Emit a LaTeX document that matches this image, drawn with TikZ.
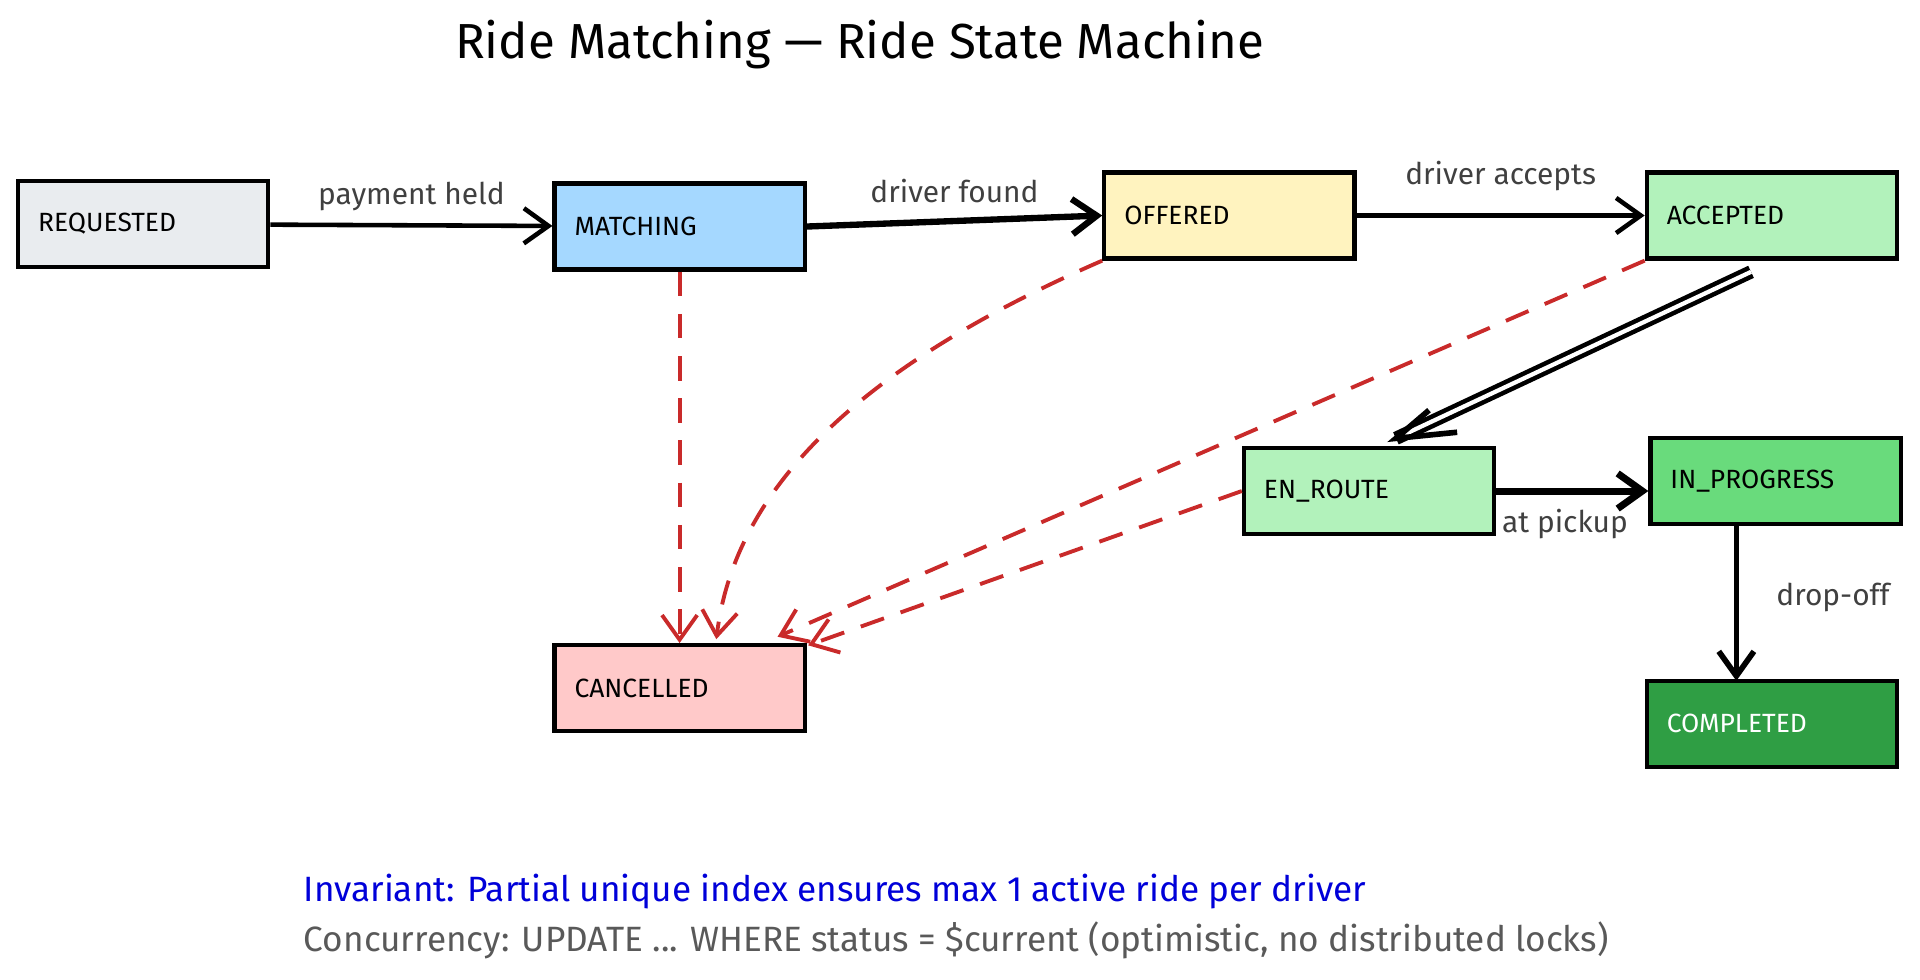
\documentclass[tikz,border=0pt]{standalone}
\usepackage{fontspec}
\setmainfont{Fira Sans}
\usetikzlibrary{arrows.meta}
\definecolor{GrayFill}{HTML}{E9ECEF}
\definecolor{BlueFill}{HTML}{A5D8FF}
\definecolor{YellowFill}{HTML}{FFF3BF}
\definecolor{LightGreen}{HTML}{B2F2BB}
\definecolor{MidGreen}{HTML}{69DB7C}
\definecolor{DarkGreen}{HTML}{2F9E44}
\definecolor{PinkFill}{HTML}{FFC9C9}
\definecolor{CancelRed}{HTML}{C92A2A}
\tikzset{
  state/.style={draw=black, line width=1.2pt, text width=2.1cm, align=left, inner xsep=0.2cm,
    minimum height=0.86cm, font=\fontsize{7.5}{9}\selectfont, text=black},
  trans/.style={line width=1.3pt, -{Straight Barb[length=7pt,width=10pt]}},
  cancel/.style={CancelRed, line width=1.1pt, dash pattern=on 7pt off 5pt, -{Straight Barb[length=7pt,width=10pt]}},
  lbl/.style={font=\fontsize{8.5}{10}\selectfont, text=black!75}
}
\begin{document}
\begin{tikzpicture}[x=0.012245cm, y=-0.012245cm]
\useasboundingbox (0,0) rectangle (1568,800);
% title
\node[font=\fontsize{14}{16}\selectfont] (title) at (702,36) {Ride Matching — Ride State Machine};

% states
\node[state, fill=GrayFill] (req) at (117,183) {REQUESTED};
\node[state, fill=BlueFill] (match) at (555,185) {MATCHING};
\node[state, fill=YellowFill] (off) at (1004,176) {OFFERED};
\node[state, fill=LightGreen] (acc) at (1447,176) {ACCEPTED};
\node[state, fill=LightGreen] (route) at (1118,401) {EN\_ROUTE};
\node[state, fill=MidGreen] (prog) at (1450,393) {IN\_PROGRESS};
\node[state, fill=DarkGreen, text=white] (done) at (1447,591) {COMPLETED};
\node[state, fill=PinkFill] (canc) at (555,562) {CANCELLED};

% happy path
\draw[trans] (req) -- node[lbl, above=0pt] {payment held} (match);
\draw[trans, line width=1.8pt] (match.east) -- node[lbl, above=1pt] {driver found} (off.west);
\draw[trans] (off) -- node[lbl, above=3pt] {driver accepts} (acc);
\coordinate (accout) at (1430,222);
\coordinate (routein) at (1140,358);
\draw[line width=1.3pt, double, double distance=1.2pt] (accout) -- (routein);
\draw[line width=1.6pt] (1167,335) -- (routein) -- (1190,353);
\draw[trans, line width=2pt] (route.east) -- (prog.west |- route.east);
\node[lbl] (pick) at (1278,428) {at pickup};
\coordinate (progout) at (1418,429);
\coordinate (donein) at (1418,556);
\draw[trans, line width=1.6pt] (progout) -- (donein);
\node[lbl] (drop) at (1497,488) {drop-off};

% cancellations
\draw[cancel] (match.south) -- (canc.north);
\draw[cancel] (off.south west) .. controls (700,300) and (600,400) .. (585,522);
\draw[cancel] (acc.south west) -- (635,520);
\draw[cancel] (route.west) -- (660,527);

% notes
\node[anchor=west, font=\fontsize{10}{12}\selectfont, text=blue!85!black] (inv) at (238,728)
  {Invariant: Partial unique index ensures max 1 active ride per driver};
\node[anchor=west, font=\fontsize{10}{12}\selectfont, text=black!65] (conc) at (238,768)
  {Concurrency: UPDATE ... WHERE status = \$current (optimistic, no distributed locks)};
\end{tikzpicture}
\end{document}
